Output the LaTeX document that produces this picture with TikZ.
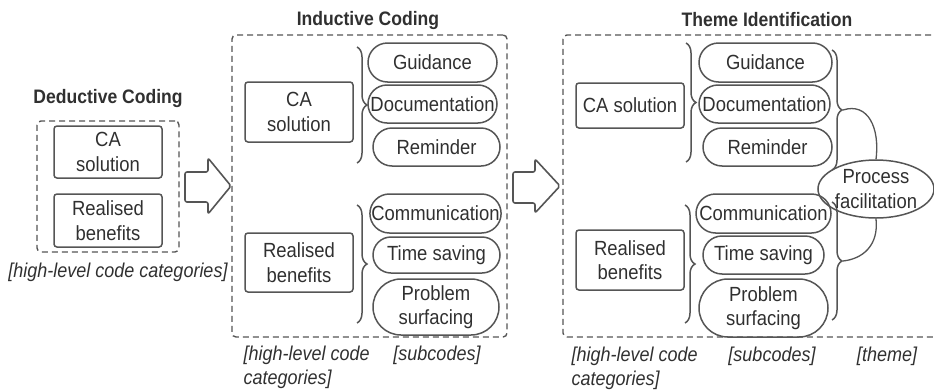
\documentclass[tikz,border=0pt]{standalone}
\usepackage{fontspec}
\setmainfont{Liberation Sans}[FakeStretch=0.9]
\usetikzlibrary{shapes.misc,shapes.geometric,decorations.pathreplacing}
\definecolor{ink}{HTML}{303030}
\definecolor{edge}{HTML}{555555}
\tikzset{
  txt/.style={font=\fontsize{20.5}{24.5}\selectfont, text=ink, align=center},
  codebox/.style={txt, draw=edge, line width=1.5pt, rounded corners=3pt, inner sep=0pt},
  subcode/.style={txt, draw=edge, line width=1.5pt, rounded rectangle, inner sep=0pt},
  themenode/.style={txt, draw=edge, line width=1.5pt, ellipse, inner sep=0pt},
  phase/.style={draw=edge, line width=1.4pt, dash pattern=on 6pt off 4pt, rounded corners=4pt, inner sep=0pt},
  heading/.style={font=\bfseries\fontsize{19.5}{23}\selectfont, text=ink},
  note/.style={font=\itshape\fontsize{20}{24}\selectfont, text=ink, align=left},
  bracebar/.style={draw=edge, line width=1.5pt, decorate, decoration={brace, amplitude=10pt}},
  blockarrow/.style={draw=edge, line width=1.6pt, rounded corners=2pt, line join=round},
  link/.style={draw=edge, line width=1.3pt},
}
\begin{document}
\begin{tikzpicture}[x=1pt,y=-1pt]
\useasboundingbox (0,0) rectangle (934,391);
\clip (0,0) rectangle (934,391);

% ---------- Deductive coding ----------
\node[heading] (dedtitle) at (108,98) {Deductive Coding};
\node[phase, minimum width=142pt, minimum height=131pt] (ded) at (108,186.5) {};
\node[codebox, minimum width=108pt, minimum height=52pt] (dedca) at (108,152) {CA\\solution};
\node[codebox, minimum width=108pt, minimum height=53pt] (dedrb) at (108,220.5) {Realised\\benefits};
\node[note] (dednote) at (118,272) {[high-level code categories]};

% step arrow 1
\draw[blockarrow] (185,172) -- (208,172) -- (208,158) -- (231,186) -- (208,214) -- (208,202) -- (185,202) -- cycle;

% ---------- Inductive coding ----------
\node[heading] (indtitle) at (368,20) {Inductive Coding};
\node[phase, minimum width=275pt, minimum height=302pt] (ind) at (369.5,186) {};
\node[codebox, minimum width=108pt, minimum height=60pt] (indca) at (299,112) {CA\\solution};
\node[codebox, minimum width=108pt, minimum height=59pt] (indrb) at (299,262.5) {Realised\\benefits};
\node[subcode, minimum width=129pt, minimum height=39pt] (indg) at (432.5,62.5) {Guidance};
\node[subcode, minimum width=129pt, minimum height=38pt] (inddoc) at (432.5,104) {Documentation};
\node[subcode, minimum width=127pt, minimum height=38pt] (indrem) at (436.5,147) {Reminder};
\node[subcode, minimum width=125pt, minimum height=39pt] (indcom) at (435.5,213.5) {Communication};
\node[subcode, minimum width=127pt, minimum height=36pt] (indts) at (436.5,255) {Time saving};
\node[subcode, minimum width=126pt, minimum height=56pt] (indps) at (436,307) {Problem\\surfacing};
\coordinate (ib1a) at (357,47);  \coordinate (ib1b) at (357,163);
\coordinate (ib2a) at (357,205); \coordinate (ib2b) at (357,323);
\draw[bracebar] (ib1a) -- (ib1b);
\draw[bracebar] (ib2a) -- (ib2b);
\node[note, anchor=west] (indnote1) at (240,367) {[high-level code\\categories]};
\node[note] (indnote2) at (437,355) {[subcodes]};

% step arrow 2
\draw[blockarrow] (513,172) -- (535,172) -- (535,159) -- (560,186) -- (535,213) -- (535,203) -- (513,203) -- cycle;

% ---------- Theme identification ----------
\node[heading] (thmtitle) at (767,20) {Theme Identification};
\node[phase, minimum width=382pt, minimum height=302pt] (thm) at (754,186) {};
\node[codebox, minimum width=108pt, minimum height=45pt] (thmca) at (630,105.5) {CA solution};
\node[codebox, minimum width=108pt, minimum height=60pt] (thmrb) at (630,260) {Realised\\benefits};
\node[subcode, minimum width=133pt, minimum height=39pt] (thmg) at (765.5,62.5) {Guidance};
\node[subcode, minimum width=131pt, minimum height=38pt] (thmdoc) at (764.5,104) {Documentation};
\node[subcode, minimum width=129pt, minimum height=38pt] (thmrem) at (767.5,147) {Reminder};
\node[subcode, minimum width=135pt, minimum height=39pt] (thmcom) at (763.5,213.5) {Communication};
\node[subcode, minimum width=121pt, minimum height=38pt] (thmts) at (763.5,255) {Time saving};
\node[subcode, minimum width=129pt, minimum height=58pt] (thmps) at (763.5,308) {Problem\\surfacing};
\coordinate (tb1a) at (686,43);  \coordinate (tb1b) at (686,162);
\coordinate (tb2a) at (685,205); \coordinate (tb2b) at (685,323);
\draw[bracebar] (tb1a) -- (tb1b);
\draw[bracebar] (tb2a) -- (tb2b);
% braces grouping the subcodes into the theme
\coordinate (tb3a) at (832,50);  \coordinate (tb3b) at (832,170);
\coordinate (tb4a) at (832,202); \coordinate (tb4b) at (832,320);
\draw[bracebar] (tb3a) -- (tb3b);
\draw[bracebar] (tb4a) -- (tb4b);
\coordinate (tip3) at (843,110);
\coordinate (tip4) at (843,261);
\node[themenode, minimum width=96pt, minimum height=58pt] (pf) at (876,189) {Process\\facilitation};
\draw[link] (tip3) .. controls (868,102) and (880,128) .. (pf.north);
\draw[link] (pf.south) .. controls (879,246) and (862,259) .. (tip4);
\node[note, anchor=west] (thmnote1) at (568,368) {[high-level code\\categories]};
\node[note] (thmnote2) at (772,356) {[subcodes]};
\node[note] (thmnote3) at (887,356) {[theme]};
\end{tikzpicture}
\end{document}
